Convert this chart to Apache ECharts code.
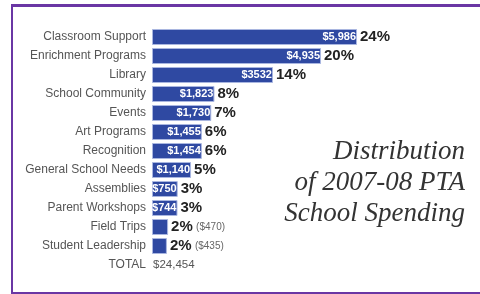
<!DOCTYPE html>
<html>
<head>
<meta charset="utf-8">
<script src="https://cdn.jsdelivr.net/npm/echarts@6/dist/echarts.min.js"></script>
<style>
  html, body { margin: 0; padding: 0; background: #fff; }
  #chart { width: 480px; height: 294px; }
</style>
</head>
<body>
<div id="chart"></div>
<script>
// categories, top to bottom
var categories = ['Classroom Support', 'Enrichment Programs', 'Library', 'School Community', 'Events',
  'Art Programs', 'Recognition', 'General School Needs', 'Assemblies', 'Parent Workshops',
  'Field Trips', 'Student Leadership', 'TOTAL'];
var amounts = [5986, 4935, 3532, 1823, 1730, 1455, 1454, 1140, 750, 744, 470, 435];
var amountLabels = ['$5,986', '$4,935', '$3532', '$1,823', '$1,730', '$1,455', '$1,454', '$1,140', '$750', '$744', '', ''];
var percents = ['24%', '20%', '14%', '8%', '7%', '6%', '6%', '5%', '3%', '3%', '2%', '2%'];
var outsideAmounts = ['', '', '', '', '', '', '', '', '', '', '($470)', '($435)'];
var totalLabel = '$24,454';
var titleLines = ['Distribution', 'of 2007-08 PTA', 'School Spending'];

var sans = '"Liberation Sans", Arial, sans-serif';
var purple = '#6a36a4';

var chart = echarts.init(document.getElementById('chart'));

var barData = amounts.map(function (v, i) {
  return { value: v, label: { formatter: amountLabels[i] } };
});
barData.push('-');

// invisible copy of the bars, only used to carry the labels on the right
var labelData = amounts.slice();
labelData.push(0);

var option = {
  backgroundColor: '#fff',
  animation: false,
  grid: { left: 152, right: 54, top: 27.5, bottom: 19.5 },
  xAxis: { type: 'value', min: 0, max: 8000, show: false },
  yAxis: {
    type: 'category',
    data: categories,
    inverse: true,
    axisLine: { show: false },
    axisTick: { show: false },
    axisLabel: {
      margin: 6,
      color: '#555',
      fontFamily: sans,
      fontSize: 12
    }
  },
  series: [
    {
      type: 'bar',
      data: barData,
      barWidth: 16,
      itemStyle: { color: '#2f49a2', borderColor: '#a9b6e0', borderWidth: 1 },
      label: {
        show: true,
        position: 'insideRight',
        distance: 1,
        color: '#fff',
        fontFamily: sans,
        fontWeight: 'bold',
        fontSize: 11
      },
      z: 2
    },
    {
      type: 'bar',
      data: labelData,
      barWidth: 16,
      barGap: '-100%',
      itemStyle: { color: 'rgba(0,0,0,0)' },
      label: {
        show: true,
        position: 'right',
        distance: 3,
        formatter: function (p) {
          var i = p.dataIndex;
          if (i >= percents.length) return '{t|' + totalLabel + '}';
          var s = '{p|' + percents[i] + '}';
          if (outsideAmounts[i]) s += ' {s|' + outsideAmounts[i] + '}';
          return s;
        },
        rich: {
          p: { fontFamily: sans, fontWeight: 'bold', fontSize: 15, color: '#222' },
          s: { fontFamily: sans, fontSize: 10, color: '#666' },
          t: { fontFamily: sans, fontSize: 11.5, color: '#555', padding: [0, 0, 0, -2] }
        }
      },
      z: 3
    }
  ],
  graphic: [
    { type: 'rect', shape: { x: 0, y: 0, width: 480, height: 294 }, style: { fill: '#fff' }, z: -10, silent: true },
    { type: 'rect', shape: { x: 11, y: 4, width: 469, height: 3 }, style: { fill: purple }, z: 10 },
    { type: 'rect', shape: { x: 11, y: 4, width: 2, height: 290 }, style: { fill: purple }, z: 10 },
    { type: 'rect', shape: { x: 11, y: 292, width: 469, height: 2 }, style: { fill: purple }, z: 10 },
    {
      type: 'text', right: 15, top: 136, z: 10,
      style: {
        text: titleLines.join('\n'),
        textAlign: 'right',
        font: 'italic 27px "Liberation Serif", "DejaVu Serif", serif',
        lineHeight: 31,
        fill: '#333'
      }
    }
  ]
};

chart.setOption(option);
</script>
</body>
</html>
